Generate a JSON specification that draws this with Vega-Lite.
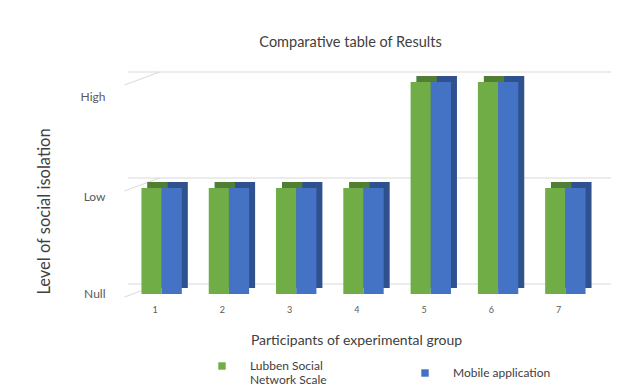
{
  "$schema": "https://vega.github.io/schema/vega-lite/v6.json",
  "autosize": "none",
  "width": 471,
  "height": 212,
  "padding": {"left": 128, "top": 82, "right": 21, "bottom": 98},
  "background": "white",
  "config": {
    "view": {"stroke": null},
    "font": "Lato",
    "axis": {"labelFont": "Lato", "titleFont": "Lato", "labelColor": "#595959", "titleColor": "#404040"}
  },
  "title": {"text": "Comparative table of Results", "font": "Lato", "fontSize": 14.5, "fontWeight": "normal", "color": "#404040", "dx": -13, "offset": 21},
  "datasets": {
    "bars": [
      {"participant": "1", "series": "Lubben Social Network Scale", "level": 1},
      {"participant": "1", "series": "Mobile application", "level": 1},
      {"participant": "2", "series": "Lubben Social Network Scale", "level": 1},
      {"participant": "2", "series": "Mobile application", "level": 1},
      {"participant": "3", "series": "Lubben Social Network Scale", "level": 1},
      {"participant": "3", "series": "Mobile application", "level": 1},
      {"participant": "4", "series": "Lubben Social Network Scale", "level": 1},
      {"participant": "4", "series": "Mobile application", "level": 1},
      {"participant": "5", "series": "Lubben Social Network Scale", "level": 2},
      {"participant": "5", "series": "Mobile application", "level": 2},
      {"participant": "6", "series": "Lubben Social Network Scale", "level": 2},
      {"participant": "6", "series": "Mobile application", "level": 2},
      {"participant": "7", "series": "Lubben Social Network Scale", "level": 1},
      {"participant": "7", "series": "Mobile application", "level": 1}
    ],
    "groups": [
      {"participant": "1", "level": 1},
      {"participant": "2", "level": 1},
      {"participant": "3", "level": 1},
      {"participant": "4", "level": 1},
      {"participant": "5", "level": 2},
      {"participant": "6", "level": 2},
      {"participant": "7", "level": 1}
    ],
    "levels": [{"lv": 0}, {"lv": 1}, {"lv": 2}]
  },
  "layer": [
    {
      "data": {"name": "levels"},
      "mark": {"type": "rule", "color": "#d9d9d9", "strokeWidth": 1, "yOffset": -10, "xOffset": 12, "x2Offset": 12},
      "encoding": {
        "y": {"field": "lv", "type": "quantitative", "scale": {"domain": [0, 2]}, "axis": {
          "title": "Level of social isolation", "titleFontSize": 16.5, "titleFontWeight": "normal",
          "titleX": -76, "titleY": 129, "titleBaseline": "bottom",
          "values": [0, 1, 2], "labelExpr": "datum.value == 0 ? 'Null' : datum.value == 1 ? 'Low' : 'High'",
          "labelFontSize": 12, "labelPadding": 23, "labelAlign": "right",
          "labelOffset": {"expr": "datum.value == 2 ? 14 : datum.value == 1 ? 8 : -1"},
          "grid": false, "domain": false, "ticks": false
        }}
      }
    },
    {
      "data": {"name": "levels"},
      "mark": {"type": "rule", "color": "#d9d9d9", "strokeWidth": 1, "xOffset": -17, "x2Offset": -2, "yOffset": 3, "y2Offset": -10},
      "encoding": {
        "x": {"datum": "1", "type": "nominal", "bandPosition": 0},
        "x2": {"datum": "1"},
        "y": {"field": "lv", "type": "quantitative"},
        "y2": {"field": "lv"}
      }
    },
    {
      "data": {"name": "groups"},
      "mark": {"type": "bar", "color": "#2f528f", "xOffset": 6, "x2Offset": 6, "yOffset": -6, "y2Offset": -6},
      "encoding": {
        "x": {"field": "participant", "type": "nominal"},
        "y": {"field": "level", "type": "quantitative"}
      }
    },
    {
      "data": {"name": "groups"},
      "mark": {"type": "bar", "color": "#507e32", "width": {"band": 0.5}, "xOffset": -4, "x2Offset": -4, "yOffset": -6, "y2Offset": -6},
      "encoding": {
        "x": {"field": "participant", "type": "nominal"},
        "y": {"field": "level", "type": "quantitative"}
      }
    },
    {
      "data": {"name": "bars"},
      "mark": {"type": "bar"},
      "encoding": {
        "x": {"field": "participant", "type": "nominal", "scale": {"paddingInner": 0.4, "paddingOuter": 0.2}, "axis": {
          "title": "Participants of experimental group", "titleFontSize": 14, "titleFontWeight": "normal",
          "titleX": 228, "titleY": 46, "titleBaseline": "middle",
          "labelAngle": 0, "labelFontSize": 9, "labelPadding": 15, "labelOffset": -4,
          "domain": false, "ticks": false, "grid": false
        }},
        "xOffset": {"field": "series", "type": "nominal"},
        "y": {"field": "level", "type": "quantitative"},
        "fill": {"field": "series", "type": "nominal", "scale": {"domain": ["Lubben Social Network Scale", "Mobile application"], "range": ["#70ad47", "#4472c4"]}, "legend": {
          "title": null, "orient": "none", "legendX": 88, "legendY": 278, "direction": "horizontal", "columns": 2,
          "symbolType": "square", "symbolSize": 55, "labelOffset": 22, "columnPadding": 92,
          "labelFontSize": 12, "labelColor": "#404040", "labelFont": "Lato",
          "labelExpr": "datum.label == 'Lubben Social Network Scale' ? ['Lubben Social', 'Network Scale'] : datum.label"
        }}
      }
    }
  ]
}
